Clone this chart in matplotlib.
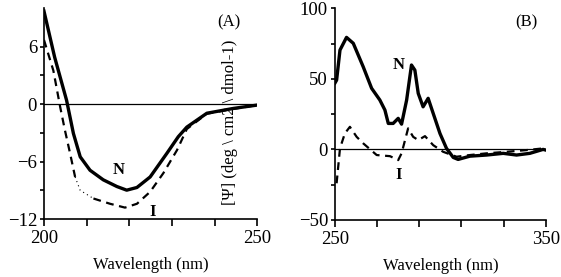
import matplotlib.pyplot as plt

# panel A: far-UV CD
wl_a_n = [200, 202.5, 205.3, 206.9, 208.5, 210.8, 213.9, 217.1, 219.4, 221.8, 224.9, 228.8, 231.5,
          233.5, 238.2, 244.4, 250]
cd_a_n = [9.7, 4.9, 0.4, -3.06, -5.5, -6.9, -7.9, -8.6, -8.98, -8.7, -7.6, -5.15, -3.4,
          -2.4, -0.95, -0.45, -0.1]
wl_a_i = [200, 202.2, 203.8, 204.9, 206.1, 207.3, 208.5, 211.6, 215.5, 219, 221.8, 224.9, 228, 231.2,
          233.5, 238.2, 244.4, 250]
cd_a_i = [6.7, 3.5, -0.3, -2.7, -5.1, -7.6, -9.0, -9.85, -10.4, -10.8, -10.4, -9.15, -7.2, -4.8,
          -2.6, -1.0, -0.5, -0.1]

# panel B: near-UV CD
wl_b_n = [250, 250.8, 252.4, 255.5, 258.7, 263.4, 267.4, 271.3, 273.7, 275.3, 277.6, 280, 281.6,
          284, 286.3, 287.9, 289.5, 291.8, 294.2, 296.6, 299.8, 302.9, 306.1, 308.4, 314, 321.9,
          329.8, 336.1, 342.4, 348.7, 350]
cd_b_n = [47, 49.1, 70.4, 79.4, 75.2, 58.6, 43.3, 35, 27.9, 18.4, 18.4, 22, 17.9,
          35, 59.8, 56.2, 39.7, 30.2, 36.2, 25.5, 11.3, 0.7, -5.7, -7.1, -4.8, -4.0,
          -2.8, -4.0, -2.8, 0, -0.5]
wl_b_i = [250.8, 252.4, 254.7, 257.1, 260.3, 263.4, 269.8, 276.1, 280, 281.6, 284.7, 287.1, 289.5,
          292.7, 296.6, 301.3, 307.7, 314, 321.9, 331.4, 340.8, 348.7, 350]
cd_b_i = [-24, 0.7, 11.3, 16, 8.9, 4.3, -4, -4.8, -7.6, -2.8, 14.9, 8.9, 6.6,
          9.4, 3, -1.7, -5.2, -4, -2.8, -1.7, -0.5, 0.7, 0]

plt.rcParams["font.family"] = ["Liberation Serif", "DejaVu Serif"]
plt.rcParams["font.size"] = 12


def style_axes(ax):
    for side in ("top", "right"):
        ax.spines[side].set_visible(False)
    for side in ("left", "bottom"):
        ax.spines[side].set_linewidth(1.2)
    ax.tick_params(axis="y", which="both", direction="out", length=3, width=1.2, pad=2, labelsize=13.5)
    ax.tick_params(axis="x", which="both", direction="out", length=5, width=1.2, pad=3, labelsize=13.5)


fig = plt.figure(figsize=(5.61, 2.77), dpi=100)

ax_a = fig.add_axes([0.0784, 0.209, 0.380, 0.761])
ax_a.axhline(0, color="black", linewidth=0.9)
# dashed trace with a thin dotted stretch near the bottom of the steep fall
ax_a.plot(wl_a_i[:6], cd_a_i[:6], color="black", linewidth=1.6, linestyle=(0, (3.5, 2.5)))
ax_a.plot(wl_a_i[5:8], cd_a_i[5:8], color="black", linewidth=0.8, linestyle=(0, (1, 3)))
ax_a.plot(wl_a_i[7:], cd_a_i[7:], color="black", linewidth=1.6, linestyle=(0, (3.5, 2.5)))
ax_a.plot(wl_a_n, cd_a_n, color="black", linewidth=2.4)
ax_a.set_xlim(200, 250)
ax_a.set_ylim(-12, 10)
ax_a.set_xticks([200, 210, 220, 230, 240, 250])
ax_a.set_xticklabels(["200", "", "", "", "", "250"])
ax_a.set_yticks([-12, -6, 0, 6])
ax_a.set_yticks([-9, -3, 3], minor=True)
style_axes(ax_a)
ax_a.set_xlabel("Wavelength (nm)", labelpad=7)
ax_a.text(217.4, -6.9, "N", fontsize=12, fontweight="bold", ha="center", va="center")
ax_a.text(225.4, -11.3, "I", fontsize=12, fontweight="bold", ha="center", va="center")
ax_a.text(243.4, 8.56, "(A)", fontsize=12, ha="center", va="center")
ax_a.text(243.7, -1.9, "[\u03a8] (deg \\ cm2 \\ dmol-1)", rotation=90, ha="center", va="center",
          fontsize=12)

ax_b = fig.add_axes([0.597, 0.206, 0.376, 0.764])
ax_b.axhline(0, color="black", linewidth=0.9)
ax_b.plot(wl_b_i, cd_b_i, color="black", linewidth=1.6, linestyle=(0, (3.5, 2.5)))
ax_b.plot(wl_b_n, cd_b_n, color="black", linewidth=2.4)
ax_b.set_xlim(250, 350)
ax_b.set_ylim(-50, 100)
ax_b.set_xticks([250, 270, 290, 310, 330, 350])
ax_b.set_xticklabels(["250", "", "", "", "", "350"])
ax_b.set_yticks([-50, 0, 50, 100])
ax_b.set_yticks([-25, 25, 75], minor=True)
style_axes(ax_b)
ax_b.set_xlabel("Wavelength (nm)", labelpad=7)
ax_b.text(280, 59.8, "N", fontsize=12, fontweight="bold", ha="center", va="center")
ax_b.text(280, -18.2, "I", fontsize=12, fontweight="bold", ha="center", va="center")
ax_b.text(341, 90, "(B)", fontsize=12, ha="center", va="center")

fig.savefig("out.png", dpi=100)
